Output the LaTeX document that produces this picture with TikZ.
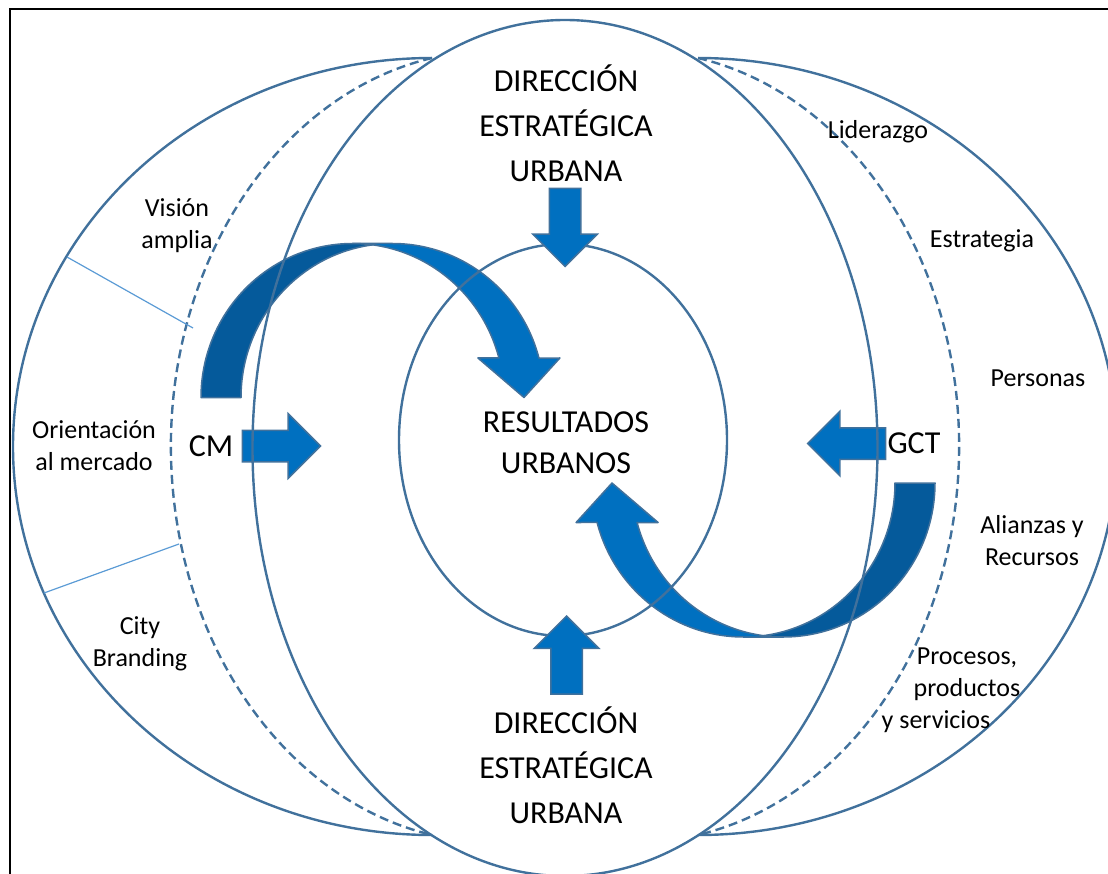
\documentclass[tikz,border=0pt]{standalone}
\usepackage{fontspec}
\setmainfont{Carlito}
\usetikzlibrary{shapes.arrows}
\definecolor{ringblue}{RGB}{65,113,156}
\definecolor{fillblue}{RGB}{0,112,192}
\definecolor{backblue}{RGB}{5,90,155}
\definecolor{lineblue}{RGB}{91,155,213}
\tikzstyle{ring}=[draw=ringblue, line width=2.4pt]
\tikzstyle{dring}=[ring, dash pattern=on 9pt off 5pt]
\tikzstyle{divline}=[draw=lineblue, line width=1.2pt]
\tikzstyle{blk}=[single arrow, fill=fillblue, draw=ringblue, line width=1.5pt,
  inner xsep=0pt, inner ysep=15pt, minimum height=78pt,
  single arrow head extend=16.5pt, anchor=tip]
\tikzstyle{ttl}=[font=\fontsize{32}{45}\selectfont, align=center, inner sep=0pt]
\tikzstyle{lbl}=[font=\fontsize{26}{32}\selectfont, align=center, inner sep=0pt]
\tikzset{curvarr/.pic={
  \path[fill=fillblue, draw=ringblue, line width=1.5pt, line join=round]
    (323,0) -- (276.9,-39.5) -- (297.9,-39.5)
    arc[start angle=345.14, end angle=270, x radius=151.5, y radius=154]
    -- (191.5,-154)
    arc[start angle=270, end angle=345.14, x radius=151.5, y radius=154]
    -- (358.9,-39.5) -- cycle;
  \path[fill=backblue, draw=ringblue, line width=1.5pt, line join=round]
    (0,0) arc[start angle=180, end angle=277.59, x radius=151.5, y radius=154]
    arc[start angle=262.41, end angle=180, x radius=151.5, y radius=154] -- cycle;
}}
\begin{document}
\begin{tikzpicture}[x=1pt,y=-1pt]
\useasboundingbox (0,0) rectangle (1108,874);
\draw[line width=2.5pt] (10,890) -- (10,9) -- (1120,9);
% where the rings meet
\coordinate (tl) at (432,58);
\coordinate (tr) at (698,58);
\coordinate (v1) at (67,257);
\coordinate (v2) at (193,328);
\coordinate (c1) at (44,593);
\coordinate (c2) at (179,544);
% curved arrows
\pic (cl) at (201,397.5) {curvarr};
\pic[rotate=180] (cr) at (935,483) {curvarr};
\node[blk] (acm) at (321.5,446) {};
\node[blk, rotate=180] (agct) at (806.5,443.5) {};
% rings
\draw[ring] (tl) arc[start angle=270, end angle=90, x radius=419, y radius=388.5];
\draw[dring] (tl) arc[start angle=259.03, end angle=100.97, x radius=322.4, y radius=395.7];
\draw[ring] (tr) arc[start angle=-90, end angle=90, x radius=419, y radius=388.5];
\draw[dring] (tr) arc[start angle=-79.03, end angle=79.03, x radius=322.4, y radius=395.7];
\draw[ring] (565,448) ellipse [x radius=312.5, y radius=428];
\draw[ring] (563,440) ellipse [x radius=164, y radius=196];
\draw[divline] (v1) -- (v2);
\draw[divline] (c1) -- (c2);
\node[blk, rotate=-90] (adown) at (565,267.5) {};
\node[blk, rotate=90] (aup) at (566.5,615) {};
% texts
\node[ttl] (dirtop) at (566,123) {DIRECCIÓN\\ESTRATÉGICA\\URBANA};
\node[ttl, font=\fontsize{32}{41}\selectfont] (res) at (566,443) {RESULTADOS\\URBANOS};
\node[ttl] (dirbot) at (566,765.5) {DIRECCIÓN\\ESTRATÉGICA\\URBANA};
\node[ttl] (cm) at (211,446) {CM};
\node[ttl] (gct) at (914,443) {GCT};
\node[lbl] (vis) at (177,226) {Visión\\amplia};
\node[lbl] (ori) at (94,445.5) {Orientación\\al mercado};
\node[lbl] (city) at (140,644) {City\\Branding};
\node[lbl] (lid) at (878,132) {Liderazgo};
\node[lbl] (est) at (982,240.5) {Estrategia};
\node[lbl] (per) at (1038,378.5) {Personas};
\node[lbl] (ali) at (1032,541) {Alianzas y\\Recursos};
\node[lbl] (pro) at (967,690) {Procesos,\\productos\\y servicios\hspace*{62pt}};
\end{tikzpicture}
\end{document}
